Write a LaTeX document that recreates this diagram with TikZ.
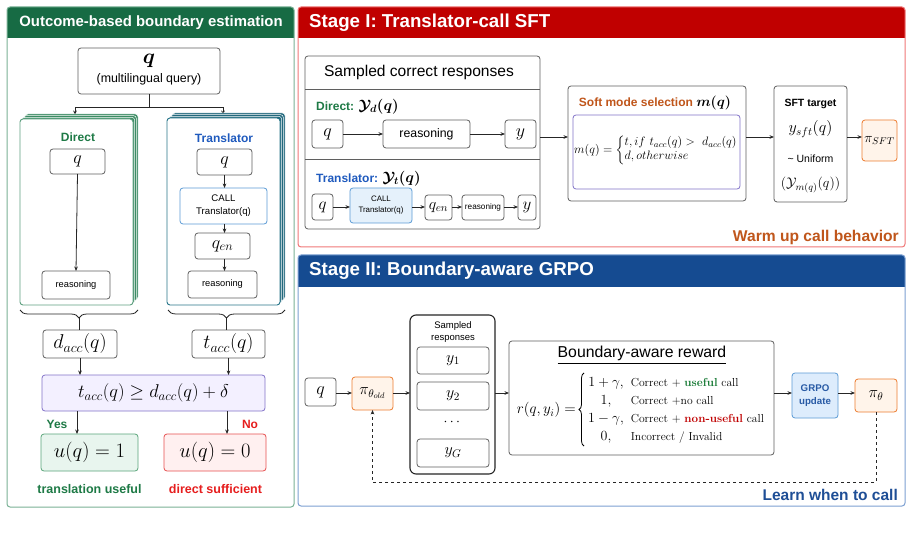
\RequirePackage{fix-cm}
\documentclass[tikz,border=0pt]{standalone}
\usepackage{amsmath}
\usepackage[no-math]{fontspec}
\setsansfont{Liberation Sans}
\usetikzlibrary{arrows.meta,decorations.pathreplacing,calc}
\newcommand\fs[2]{\fontsize{#1}{#2}\selectfont}
\definecolor{hdrGreen}{RGB}{23,107,68}
\definecolor{panelGreen}{RGB}{122,178,150}
\definecolor{dGreen}{RGB}{30,122,70}
\definecolor{tBlue}{RGB}{31,90,190}
\definecolor{hdrRed}{RGB}{192,0,0}
\definecolor{panelRed}{RGB}{240,120,120}
\definecolor{hdrBlue}{RGB}{21,75,145}
\definecolor{panelBlue}{RGB}{125,160,210}
\definecolor{orangeT}{RGB}{192,86,27}
\definecolor{orB}{RGB}{237,125,49}
\definecolor{orF}{RGB}{255,244,234}
\definecolor{callF}{RGB}{229,241,251}
\definecolor{callB}{RGB}{91,155,213}
\definecolor{condF}{RGB}{243,240,255}
\definecolor{condB}{RGB}{130,115,200}
\definecolor{uoneF}{RGB}{232,245,238}
\definecolor{uoneB}{RGB}{90,165,122}
\definecolor{uzeroF}{RGB}{255,240,240}
\definecolor{uzeroB}{RGB}{230,80,80}
\definecolor{noRed}{RGB}{230,30,30}
\definecolor{learnBlue}{RGB}{30,78,150}
\definecolor{boxgray}{RGB}{95,95,95}
\definecolor{dStackB}{RGB}{95,160,128}
\definecolor{dStackF}{RGB}{60,140,100}
\definecolor{tStackB}{RGB}{40,118,138}
\definecolor{tStackF}{RGB}{35,105,125}
\definecolor{usefulG}{RGB}{20,120,50}
\definecolor{nonuR}{RGB}{192,0,0}
\definecolor{grpoF}{RGB}{221,236,252}
\definecolor{grpoT}{RGB}{40,90,165}
\begin{document}
\begin{tikzpicture}[x=1pt,y=-1pt,
  box/.style={draw=boxgray, line width=0.8pt, rounded corners=3pt, fill=white, inner sep=0pt, outer sep=0pt},
  arr/.style={-{Stealth[length=4.5pt,width=3.6pt]}, line width=0.8pt, draw=black!85},
  ln/.style={line width=0.8pt, draw=black!85},
  lbl/.style={inner sep=0pt, font=\sffamily},
  mth/.style={inner sep=0pt}]
\useasboundingbox (0,0) rectangle (912,534);
\fill[white] (0,0) rectangle (912,534);

% ================= LEFT PANEL =================
\fill[hdrGreen] (7,38) [rounded corners=3pt]-- (7,7) -- (294,7) [sharp corners]-- (294,38) -- cycle;
\draw[panelGreen, line width=1pt, rounded corners=3pt] (7,7) rectangle (294,507);
\node (titleL) [lbl, text=white, font=\sffamily\bfseries\fs{14.9}{16}] at (151,23) {Outcome-based boundary estimation};

\node (qtop) [box, minimum width=142, minimum height=46] at (149,71) {};
\node (qtopq) [mth] at (149,61) {\fs{21}{21}$\boldsymbol{q}$};
\node (qtopt) [lbl, font=\sffamily\fs{12.4}{14}] at (149,79) {(multilingual query)};
\coordinate (br) at (149,107);
\coordinate (dtop) at (75,115);
\coordinate (ttop) at (223,115);
\draw[ln] (qtop.south) -- (br);
\draw[arr] (br) -| (dtop);
\draw[arr] (br) -| (ttop);

% stacks
\foreach \i in {3,2,1} {
  \draw[fill=dStackF, draw=white, line width=0.5pt, rounded corners=3pt] ($(20,119)+(1.7*\i,-1.7*\i)$) rectangle ($(133,305)+(1.7*\i,-1.7*\i)$);
  \draw[fill=tStackF, draw=white, line width=0.5pt, rounded corners=3pt] ($(167,118)+(1.7*\i,-1.7*\i)$) rectangle ($(280,305)+(1.7*\i,-1.7*\i)$);
}
\node (dcard) [draw=dStackB, fill=white, line width=0.9pt, rounded corners=3pt, minimum width=113, minimum height=186, inner sep=0pt] at (76.5,212) {};
\node (tcard) [draw=tStackB, fill=white, line width=0.9pt, rounded corners=3pt, minimum width=113, minimum height=187, inner sep=0pt] at (223.5,211.5) {};

\node (dlab) [lbl, text=dGreen, font=\sffamily\bfseries\fs{12}{14}] at (78,137) {Direct};
\node (dq) [box, minimum width=55, minimum height=25] at (77.5,161.5) {\fs{18}{18}$q$};
\node (dreason) [box, minimum width=68, minimum height=28, font=\sffamily\fs{9.3}{11}] at (76,285) {reasoning};
\draw[arr] (dq.south) -- (dreason.north);

\node (tlab) [lbl, text=tBlue, font=\sffamily\bfseries\fs{12}{14}] at (224,138) {Translator};
\node (tq) [box, minimum width=55, minimum height=26] at (224.5,162) {\fs{18}{18}$q$};
\node (tcall) [box, draw=callB, minimum width=87, minimum height=36, align=center, font=\sffamily\fs{9.6}{13}] at (223.5,206) {CALL\\Translator(q)};
\node (tqen) [box, minimum width=55, minimum height=26] at (222.5,246) {\fs{18}{18}$q_{en}$};
\node (treason) [box, minimum width=69, minimum height=27, font=\sffamily\fs{9.3}{11}] at (222.5,284.5) {reasoning};
\draw[arr] (tq.south) -- (tq.south |- tcall.north);
\draw[arr] (tq.south |- tcall.south) -- (tq.south |- tqen.north);
\draw[arr] (tq.south |- tqen.south) -- (tq.south |- treason.north);

% braces
\draw[ln, decorate, decoration={brace, mirror, amplitude=8pt}] (20,310) -- (138,310);
\draw[ln, decorate, decoration={brace, mirror, amplitude=8pt}] (168,310) -- (285,310);

\node (dacc) [box, minimum width=74, minimum height=28] at (80,344) {\fs{20}{20}$d_{acc}(q)$};
\node (tacc) [box, minimum width=73, minimum height=28] at (228.5,344) {\fs{20}{20}$t_{acc}(q)$};
\draw[ln] (79,318) -- (79,330);
\draw[ln] (226.5,318) -- (226.5,330);

\node (cond) [box, fill=condF, draw=condB, minimum width=223, minimum height=36] at (153.5,393) {\fs{18.5}{18.5}$t_{acc}(q)\geq d_{acc}(q)+\delta$};
\draw[arr] (dacc.south) -- (dacc.south |- cond.north);
\draw[arr] (tacc.south) -- (tacc.south |- cond.north);

\node (uone) [box, fill=uoneF, draw=uoneB, minimum width=97, minimum height=37] at (89.5,452.5) {\fs{20.5}{20.5}$u(q)=1$};
\node (uzero) [box, fill=uzeroF, draw=uzeroB, minimum width=102, minimum height=37] at (215,452.5) {\fs{20.5}{20.5}$u(q)=0$};
\coordinate (yesx) at (77,0);
\coordinate (nox) at (227,0);
\draw[arr] (yesx |- cond.south) -- (yesx |- uone.north);
\draw[arr] (nox |- cond.south) -- (nox |- uzero.north);
\node (yes) [lbl, text=dGreen, font=\sffamily\bfseries\fs{12}{14}] at (57,424) {Yes};
\node (no) [lbl, text=noRed, font=\sffamily\bfseries\fs{12}{14}] at (250,424) {No};
\node (useful) [lbl, text=dGreen, font=\sffamily\bfseries\fs{12.5}{14}] at (89.5,489) {translation useful};
\node (suff) [lbl, text=noRed, font=\sffamily\bfseries\fs{12.5}{14}] at (215.5,489) {direct sufficient};

% ================= STAGE I =================
\fill[hdrRed] (298,38) [rounded corners=3pt]-- (298,7) -- (905,7) [sharp corners]-- (905,38) -- cycle;
\draw[panelRed, line width=1pt, rounded corners=3pt] (298,7) rectangle (905,247);
\node (titleI) [lbl, anchor=west, text=white, font=\sffamily\bfseries\fs{18.7}{20}] at (309,23) {Stage I: Translator-call SFT};

\node (samp) [box, minimum width=235, minimum height=173] at (422.5,142.5) {};
\draw[boxgray, line width=0.8pt] (samp.west |- 0,89) -- (samp.east |- 0,89);
\draw[boxgray, line width=0.8pt] (samp.west |- 0,159) -- (samp.east |- 0,159);
\node (samptitle) [lbl, font=\sffamily\fs{15.6}{17}] at (419,72) {Sampled correct responses};

\node (sdlab) [lbl, anchor=west, font=\sffamily\bfseries\fs{12}{14}] at (316,107) {\textcolor{dGreen}{Direct:} \fs{15}{15}$\boldsymbol{\mathcal{Y}_d(q)}$};
\node (sq1) [box, minimum width=31, minimum height=28] at (327.5,134) {\fs{18}{18}$q$};
\node (sr1) [box, minimum width=87, minimum height=28, font=\sffamily\fs{12.3}{14}] at (426.5,134) {reasoning};
\node (sy1) [box, minimum width=31, minimum height=28] at (520.5,134) {\fs{18}{18}$y$};
\draw[arr] (sq1) -- (sr1);
\draw[arr] (sr1) -- (sy1);

\node (stlab) [lbl, anchor=west, font=\sffamily\bfseries\fs{12}{14}] at (316,179) {\textcolor{tBlue}{Translator:} \fs{15}{15}$\boldsymbol{\mathcal{Y}_t(q)}$};
\node (sq2) [box, minimum width=21, minimum height=26] at (322.5,207) {\fs{17}{17}$q$};
\node (scall) [box, fill=callF, draw=callB, minimum width=62, minimum height=35, align=center, font=\sffamily\fs{7.9}{11}] at (381,205.5) {CALL\\Translator(q)};
\node (sqen) [box, minimum width=27, minimum height=25] at (438.5,207.5) {\fs{16}{16}$q_{en}$};
\node (sr2) [box, minimum width=42, minimum height=25, font=\sffamily\fs{8.2}{10}] at (483,207.5) {reasoning};
\node (sy2) [box, minimum width=18, minimum height=25] at (527,207.5) {\fs{17}{17}$y$};
\coordinate (row2) at (0,207);
\draw[arr] (sq2.east |- row2) -- (scall.west |- row2);
\draw[arr] (scall.east |- row2) -- (sqen.west |- row2);
\draw[arr] (sqen.east |- row2) -- (sr2.west |- row2);
\draw[arr] (sr2.east |- row2) -- (sy2.west |- row2);

\node (soft) [box, minimum width=178, minimum height=115] at (657,143.5) {};
\node (softtitle) [lbl, text=orangeT, font=\sffamily\bfseries\fs{12}{14}] at (655,103) {Soft mode selection {\color{black}\fs{14}{14}$\boldsymbol{m(q)}$}};
\node (softin) [box, draw=condB, minimum width=167, minimum height=74] at (656.5,152) {};
\node (softf) [mth] at (656,150) {\fs{12.2}{13.5}$m(q)=\left\{\begin{array}{@{}l@{}} t, if\ t_{acc}(q)>\ d_{acc}(q)\\ d, otherwise\end{array}\right.$};

\node (sft) [box, minimum width=73, minimum height=116] at (810.5,144) {};
\node (sftt) [lbl, font=\sffamily\bfseries\fs{10.5}{12}] at (810.5,104) {SFT target};
\node (sfty) [mth] at (810.5,129) {\fs{16}{16}$y_{sft}(q)$};
\node (sftu) [lbl, font=\sffamily\fs{10.5}{12}] at (810.5,159) {\textasciitilde{} Uniform};
\node (sftm) [mth] at (810.5,185) {\fs{14}{14}$(\mathcal{Y}_{m(q)}(q))$};

\node (pisft) [box, draw=orB, fill=orF, minimum width=35, minimum height=41] at (879.5,140.5) {\fs{14}{14}$\pi_{SFT}$};
\coordinate (row1) at (0,137);
\draw[arr] (samp.east |- row1) -- (soft.west |- row1);
\draw[arr] (soft.east |- row1) -- (sft.west |- row1);
\draw[arr] (sft.east |- row1) -- (pisft.west |- row1);
\node (warm) [lbl, anchor=east, text=orangeT, font=\sffamily\bfseries\fs{15.6}{17}] at (899,237) {Warm up call behavior};

% ================= STAGE II =================
\fill[hdrBlue] (298,287) [rounded corners=3pt]-- (298,255) -- (905,255) [sharp corners]-- (905,287) -- cycle;
\draw[panelBlue, line width=1pt, rounded corners=3pt] (298,255) rectangle (905,506);
\node (titleII) [lbl, anchor=west, text=white, font=\sffamily\bfseries\fs{18.7}{20}] at (309,271) {Stage II: Boundary-aware GRPO};

\node (q3) [box, minimum width=31, minimum height=28] at (320.5,392) {\fs{18}{18}$q$};
\node (piold) [box, draw=orB, fill=orF, minimum width=41, minimum height=33] at (372.5,393.5) {\fs{16}{16}$\pi_{\theta_{old}}$};
\node (sampR) [box, draw=black!85, line width=1.1pt, rounded corners=6pt, minimum width=85, minimum height=159] at (452.5,394.5) {};
\node (sampRt) [lbl, align=center, font=\sffamily\fs{9.5}{12}] at (453,332) {Sampled\\responses};
\node (ya) [box, minimum width=72, minimum height=27] at (453,360.5) {\fs{16}{16}$y_1$};
\node (yb) [box, minimum width=72, minimum height=28] at (453,396) {\fs{16}{16}$y_2$};
\node (ydots) [mth] at (453,422) {\fs{14}{14}$\cdots$};
\node (yc) [box, minimum width=72, minimum height=28] at (453,453) {\fs{16}{16}$y_G$};

\node (reward) [box, minimum width=265, minimum height=114] at (641.5,398) {};
\node (rewardt) [lbl, font=\sffamily\fs{15.8}{17}] at (642,355) {\underline{Boundary-aware reward}};
\node (rlhs) [mth, anchor=east] at (576,410) {\fs{15}{15}$r(q,y_i)=$};
\draw[line width=0.8pt, decorate, decoration={brace, amplitude=5pt}] (584,446) -- (584,373);
\node (rcases) [mth, anchor=west] at (588,409.5) {\fs{14}{18}$\begin{array}{@{}c@{\hspace{7pt}}l@{}}
 1+\gamma, & \text{\rmfamily\fs{11.6}{14}Correct + \textbf{\color{usefulG}useful} call}\\
 1, & \text{\rmfamily\fs{11.6}{14}Correct +no call}\\
 1-\gamma, & \text{\rmfamily\fs{11.6}{14}Correct + \textbf{\color{nonuR}non-useful} call}\\
 0, & \text{\rmfamily\fs{11.6}{14}Incorrect / Invalid}
 \end{array}$};

\node (grpo) [box, draw=callB, fill=grpoF, minimum width=46, minimum height=45, align=center, text=grpoT, font=\sffamily\bfseries\fs{9.7}{13}] at (815,395.5) {GRPO\\update};
\node (pith) [box, draw=orB, fill=orF, minimum width=42, minimum height=33] at (876,395.5) {\fs{16}{16}$\pi_\theta$};

\coordinate (row3) at (0,393);
\draw[arr] (q3.east |- row3) -- (piold.west |- row3);
\draw[arr] (piold.east |- row3) -- (sampR.west |- row3);
\draw[arr] (sampR.east |- row3) -- (reward.west |- row3);
\draw[arr] (reward.east |- row3) -- (grpo.west |- row3);
\draw[arr] (grpo.east |- row3) -- (pith.west |- row3);
\coordinate (fb) at (0,482);
\draw[arr, dashed, line width=0.7pt] (pith.south) -- (pith.south |- fb) -| (piold.south);

\node (learn) [lbl, anchor=east, text=learnBlue, font=\sffamily\bfseries\fs{15.5}{17}] at (898,495) {Learn when to call};
\end{tikzpicture}
\end{document}
